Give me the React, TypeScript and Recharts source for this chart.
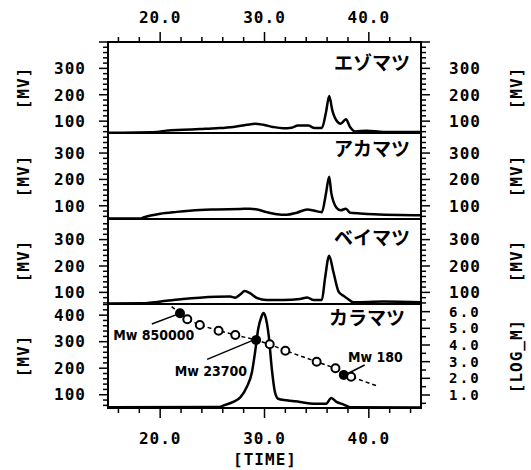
import React from "react";
import {
  ComposedChart,
  Line,
  XAxis,
  YAxis,
  ReferenceLine,
  ReferenceDot,
} from "recharts";

// chromatograms: retention time [min] and detector signal [mV]
const ezoTime = [15, 19.7, 20.6, 22.2, 23.8, 25.4, 27.0, 28.3, 29.1, 29.9, 30.8, 31.8, 32.6, 33.2, 34.2, 34.8, 35.5, 35.9, 36.2, 36.5, 37.0, 37.3, 37.8, 38.2, 38.7, 39.8, 41.4, 45];
const ezoMv = [56, 59, 64, 67, 70, 73, 78, 86, 90, 86, 78, 73, 75, 83, 83, 74, 74, 135, 195, 141, 97, 90, 107, 78, 61, 64, 59, 59];

const akaTime = [15, 18.1, 18.4, 20.0, 21.6, 23.8, 25.4, 27.7, 28.6, 29.3, 30.2, 31.2, 32.1, 33.1, 34.1, 34.8, 35.5, 35.9, 36.2, 36.4, 36.9, 37.3, 37.8, 38.2, 39.2, 40.5, 43.0, 45];
const akaMv = [52, 52, 56, 70, 77, 84, 86, 88, 89, 86, 76, 68, 66, 74, 86, 81, 76, 149, 210, 149, 93, 83, 89, 74, 71, 68, 65, 64];

const beiTime = [15, 18.4, 19.0, 20.6, 22.2, 23.8, 25.4, 26.7, 27.2, 27.7, 28.1, 28.6, 29.3, 30.2, 31.8, 33.4, 34.1, 34.7, 35.5, 35.8, 36.2, 36.6, 37.1, 37.6, 37.9, 38.5, 41.4, 45];
const beiMv = [58, 59, 61, 68, 75, 80, 83, 84, 80, 93, 105, 97, 78, 71, 71, 75, 81, 71, 71, 153, 239, 178, 103, 86, 78, 63, 65, 63];

const karaTime = [15, 25.7, 26.1, 27.0, 27.7, 28.3, 28.8, 29.1, 29.4, 29.7, 29.9, 30.1, 30.4, 30.7, 31.0, 31.3, 32.1, 33.4, 34.7, 35.9, 36.4, 36.9, 37.6, 38.2, 45];
const karaMv = [53, 54, 60, 73, 91, 129, 186, 261, 349, 393, 408, 393, 324, 198, 110, 85, 79, 73, 66, 66, 88, 73, 63, 53, 52];

// calibration curve (log M against time); "std" = labelled standards
const calTime = [21.1, 21.9, 22.6, 23.8, 25.6, 27.2, 29.2, 30.5, 32.0, 35.0, 36.8, 37.6, 38.3, 40.8];
const calLogM = [6.3, 5.9, 5.54, 5.2, 4.86, 4.6, 4.3, 4.04, 3.66, 3.0, 2.6, 2.2, 2.1, 1.54];
const calKind = ["end", "std", "open", "open", "open", "open", "std", "open", "open", "open", "open", "std", "open", "end"];

const mwText = ["Mw 850000", "Mw 23700", "Mw 180"];
const mwTextTime = [15.5, 21.4, 38.0];
const mwTextLogM = [4.6, 2.45, 3.3];
const mwFromTime = [19.2, 24.5, 39.6];
const mwFromLogM = [5.26, 3.14, 2.8];
const mwToTime = [21.9, 29.1, 37.9];
const mwToLogM = [5.9, 4.34, 2.26];

const panelNames = ["エゾマツ", "アカマツ", "ベイマツ", "カラマツ"];

function range(a: number, b: number, step: number) {
  const out: number[] = [];
  for (let v = a; v <= b + 1e-9; v += step) out.push(Math.round(v * 100) / 100);
  return out;
}

const timeTicks = range(16, 44, 2);
const mvTicks = range(60, 440, 20);
const logTicks = range(0.5, 6, 0.5);

const FONT = '"DejaVu Sans Mono", "Liberation Mono", monospace';
const numStyle: React.CSSProperties = {
  fontFamily: FONT,
  fontWeight: 700,
  fontSize: 16,
  letterSpacing: 1,
};
const logStyle: React.CSSProperties = { ...numStyle, fontSize: 14, letterSpacing: 2.2 };

const isMult = (v: number, m: number) => Math.abs(v / m - Math.round(v / m)) < 1e-6;

function leftTick(majorStep: number, labelMax: number, fmt: (v: number) => string) {
  return (p: any) => {
    const x = Number(p.x);
    const y = Number(p.y);
    const v = Number(p.payload.value);
    const major = isMult(v, majorStep);
    return (
      <g>
        <line x1={x - (major ? 9 : 5)} y1={y} x2={x} y2={y} stroke="#000" strokeWidth={1.5} />
        {major && v <= labelMax && (
          <text x={x - 22} y={y} dy="0.36em" textAnchor="end" fill="#000" style={numStyle}>
            {fmt(v)}
          </text>
        )}
      </g>
    );
  };
}

function rightTick(majorStep: number, labelMax: number, fmt: (v: number) => string, style = numStyle) {
  return (p: any) => {
    const x = Number(p.x);
    const y = Number(p.y);
    const v = Number(p.payload.value);
    const major = isMult(v, majorStep);
    return (
      <g>
        <line x1={x} y1={y} x2={x + (major ? 9 : 5)} y2={y} stroke="#000" strokeWidth={1.5} />
        {major && v <= labelMax && (
          <text x={x + 28} y={y} dy="0.36em" textAnchor="start" fill="#000" style={style}>
            {fmt(v)}
          </text>
        )}
      </g>
    );
  };
}

function timeTick(side: "top" | "bottom") {
  return (p: any) => {
    const x = Number(p.x);
    const y = Number(p.y);
    const v = Number(p.payload.value);
    const major = isMult(v, 10);
    const len = major ? 10 : 5;
    const dir = side === "top" ? -1 : 1;
    return (
      <g>
        <line x1={x} y1={y} x2={x} y2={y + dir * len} stroke="#000" strokeWidth={1.5} />
        {major && (
          <text
            x={x}
            y={side === "top" ? y - 25 : y + 30}
            dy="0.36em"
            textAnchor="middle"
            fill="#000"
            style={numStyle}
          >
            {v.toFixed(1)}
          </text>
        )}
      </g>
    );
  };
}

const fmtInt = (v: number) => String(v);
const fmtOne = (v: number) => v.toFixed(1);

// layout: plot spans x 108..421; panel boundaries in page pixels
const PLOT_L = 108;
const PLOT_R = 421;
const panelEdges = [42, 133, 219, 304, 408];

const mvPanels = [
  { times: ezoTime, values: ezoMv, domain: [55, 400], top: 0, height: 133, axis: "top" },
  { times: akaTime, values: akaMv, domain: [50, 376], top: 133, height: 86, axis: "none" },
  { times: beiTime, values: beiMv, domain: [56, 378], top: 219, height: 85, axis: "none" },
];

function CalDot(p: any) {
  const kind = p.payload?.kind;
  if (kind === "end") return <g key={p.key} />;
  if (kind === "std") return <circle key={p.key} cx={p.cx} cy={p.cy} r={5} fill="#000" />;
  return <circle key={p.key} cx={p.cx} cy={p.cy} r={4} fill="#fff" stroke="#000" strokeWidth={2} />;
}

export default function App() {
  const calData = calTime.map((t, i) => ({ t, logM: calLogM[i], kind: calKind[i] }));
  const karaData = karaTime.map((t, i) => ({ t, mv: karaMv[i] }));

  return (
    <div style={{ position: "absolute", left: 0, top: 0, width: 531, height: 470, background: "#fff" }}>
      {mvPanels.map((pn, idx) => {
        const data = pn.times.map((t, i) => ({ t, mv: pn.values[i] }));
        const ticks = mvTicks.filter(v => v >= pn.domain[0] && v <= pn.domain[1]);
        const isTop = pn.axis === "top";
        return (
          <div key={idx} style={{ position: "absolute", left: 0, top: pn.top }}>
            <ComposedChart width={531} height={pn.height} margin={{ top: 0, right: 0, bottom: 0, left: 0 }}>
              <XAxis
                xAxisId="x"
                dataKey="t"
                orientation="top"
                type="number"
                domain={[15, 45]}
                allowDataOverflow
                ticks={timeTicks}
                interval={0}
                hide={!isTop}
                height={isTop ? 42 : 0}
                tickSize={0}
                tickMargin={0}
                tickLine={false}
                axisLine={false}
                tick={timeTick("top")}
              />
              <YAxis
                yAxisId="l"
                type="number"
                domain={pn.domain}
                allowDataOverflow
                ticks={ticks}
                interval={0}
                width={108}
                tickSize={0}
                tickMargin={0}
                tickLine={false}
                axisLine={false}
                tick={leftTick(100, 300, fmtInt)}
              />
              <YAxis
                yAxisId="r"
                orientation="right"
                type="number"
                domain={pn.domain}
                allowDataOverflow
                ticks={ticks}
                interval={0}
                width={110}
                tickSize={0}
                tickMargin={0}
                tickLine={false}
                axisLine={false}
                tick={rightTick(100, 300, fmtInt)}
              />
              <Line
                xAxisId="x"
                yAxisId="l"
                data={data}
                dataKey="mv"
                type="monotone"
                stroke="#000"
                strokeWidth={2.5}
                dot={false}
                isAnimationActive={false}
              />
            </ComposedChart>
          </div>
        );
      })}

      <div style={{ position: "absolute", left: 0, top: 304 }}>
        <ComposedChart width={531} height={166} margin={{ top: 0, right: 0, bottom: 0, left: 0 }}>
          <XAxis
            xAxisId="bot"
            dataKey="t"
            type="number"
            domain={[15, 45]}
            allowDataOverflow
            ticks={timeTicks}
            interval={0}
            height={62}
            tickSize={0}
            tickMargin={0}
            tickLine={false}
            axisLine={false}
            tick={timeTick("bottom")}
          />
          <YAxis
            yAxisId="l"
            type="number"
            domain={[50, 442]}
            allowDataOverflow
            ticks={mvTicks}
            interval={0}
            width={108}
            tickSize={0}
            tickMargin={0}
            tickLine={false}
            axisLine={false}
            tick={leftTick(100, 400, fmtInt)}
          />
          <YAxis
            yAxisId="r"
            orientation="right"
            type="number"
            domain={[0.22, 6.46]}
            allowDataOverflow
            ticks={logTicks}
            interval={0}
            width={110}
            tickSize={0}
            tickMargin={0}
            tickLine={false}
            axisLine={false}
            tick={rightTick(1, 6, fmtOne, logStyle)}
          />
          <Line
            xAxisId="bot"
            yAxisId="l"
            data={karaData}
            dataKey="mv"
            type="monotone"
            stroke="#000"
            strokeWidth={2.5}
            dot={false}
            isAnimationActive={false}
          />
          <Line
            xAxisId="bot"
            yAxisId="r"
            data={calData}
            dataKey="logM"
            type="linear"
            stroke="#000"
            strokeWidth={1.5}
            strokeDasharray="4 3"
            dot={CalDot}
            isAnimationActive={false}
          />
          {mwText.map((txt, i) => (
            <ReferenceLine
              key={`seg-${i}`}
              xAxisId="bot"
              yAxisId="r"
              segment={[
                { x: mwFromTime[i], y: mwFromLogM[i] },
                { x: mwToTime[i], y: mwToLogM[i] },
              ]}
              stroke="#000"
              strokeWidth={1.5}
            />
          ))}
          {mwText.map((txt, i) => (
            <ReferenceDot
              key={`txt-${i}`}
              xAxisId="bot"
              yAxisId="r"
              x={mwTextTime[i]}
              y={mwTextLogM[i]}
              r={0}
              shape={(p: any) => (
                <text
                  x={p.cx}
                  y={p.cy}
                  dy="0.36em"
                  textAnchor="start"
                  fill="#000"
                  style={{
                    fontFamily: '"DejaVu Sans Condensed", "Liberation Sans Narrow", sans-serif',
                    fontStretch: "condensed",
                    fontWeight: 700,
                    fontSize: 14,
                  }}
                >
                  {txt}
                </text>
              )}
            />
          ))}
        </ComposedChart>
      </div>

      <svg
        width={531}
        height={470}
        style={{ position: "absolute", left: 0, top: 0, pointerEvents: "none" }}
      >
        {panelEdges.slice(0, 4).map((y0, i) => (
          <rect
            key={`f${i}`}
            x={PLOT_L}
            y={y0}
            width={PLOT_R - PLOT_L}
            height={panelEdges[i + 1] - y0}
            fill="none"
            stroke="#000"
            strokeWidth={2}
          />
        ))}
        {[63, 149, 238, 318].map((cy, i) => (
          <text
            key={i}
            x={i === 3 ? 405 : 410}
            y={cy}
            dy="0.36em"
            textAnchor="end"
            fill="#000"
            style={{ fontFamily: '"Noto Sans CJK JP", sans-serif', fontWeight: 700, fontSize: 19 }}
          >
            {panelNames[i]}
          </text>
        ))}
        {[88, 176, 261, 356].map((cy, i) => (
          <text
            key={`l${i}`}
            x={23}
            y={cy}
            dy="0.36em"
            textAnchor="middle"
            transform={`rotate(-90 23 ${cy})`}
            fill="#000"
            style={numStyle}
          >
            [MV]
          </text>
        ))}
        {[88, 176, 261, 356].map((cy, i) => (
          <text
            key={`r${i}`}
            x={516}
            y={cy}
            dy="0.36em"
            textAnchor="middle"
            transform={`rotate(-90 516 ${cy})`}
            fill="#000"
            style={numStyle}
          >
            {i === 3 ? "[LOG_M]" : "[MV]"}
          </text>
        ))}
        <text x={265} y={459} dy="0.36em" textAnchor="middle" fill="#000" style={numStyle}>
          [TIME]
        </text>
      </svg>
    </div>
  );
}
